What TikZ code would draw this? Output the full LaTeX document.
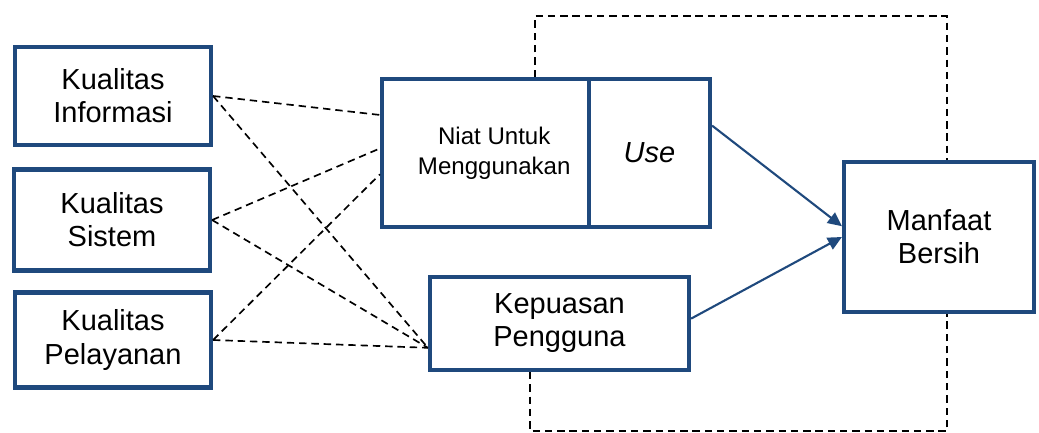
\documentclass[tikz,border=0pt]{standalone}
\usepackage{fontspec}
\setmainfont{Liberation Sans}
\usepackage{xcolor}
\usetikzlibrary{
    arrows.meta,
    shapes,
    positioning,
    calc
}
\definecolor{boxblue}{RGB}{31,73,125}
\tikzset{%
    >={Triangle[width=2.6mm,length=2.8mm]},
    % Specifications for style of nodes:
    base/.style = {
        rectangle, draw=boxblue, line width=2.4pt,
        text centered, align=center, fill=white,
        font=\fontsize{16.5}{18.8}\selectfont
    },
    factor/.style = {base, minimum width=3.92cm},
    small/.style = {font=\fontsize{13.7}{17}\selectfont},
    link/.style = {draw=black, line width=0.95pt, dash pattern=on 4.2pt off 2.8pt},
    effect/.style = {draw=boxblue, line width=1.2pt, ->}
}
\begin{document}
\begin{tikzpicture}[x=0.02cm, y=-0.02cm]
    \useasboundingbox (0,0) rectangle (1039,433);

    % feedback loops
    \coordinate (tl) at (535,16);
    \coordinate (tr) at (947,16);
    \coordinate (bl) at (530,431);
    \coordinate (br) at (947,431);

    \node[factor, minimum height=1.96cm] (info) at (113,96) {Kualitas\\Informasi};
    \node[factor, minimum height=2.02cm] (sys) at (112,220) {Kualitas\\Sistem};
    \node[factor, minimum height=1.9cm] (svc) at (113,340) {Kualitas\\Pelayanan};

    \node[base, small, minimum width=4.14cm, minimum height=2.96cm] (niat) at (485.5,153) {\hspace*{0.35cm}Niat Untuk\\\hspace*{0.35cm}Menggunakan};
    \node[base, minimum width=2.42cm, minimum height=2.96cm] (use) at (649.5,153) {\itshape Use};
    \node[base, minimum width=5.18cm, minimum height=1.86cm] (kep) at (559.5,323.5) {Kepuasan\\Pengguna};
    \node[base, minimum width=3.8cm, minimum height=3cm] (net) at (939,237) {Manfaat\\Bersih};

    \draw[link] (info.east) -- ($(niat.north west)!0.25!(niat.south west)$);
    \draw[link] (info.east) -- ($(kep.north west)!0.75!(kep.south west)$);
    \draw[link] (sys.east) -- ($(niat.north west)!0.47!(niat.south west)$);
    \draw[link] (sys.east) -- ($(kep.north west)!0.75!(kep.south west)$);
    \draw[link] (svc.east) -- ($(niat.north west)!0.64!(niat.south west)$);
    \draw[link] (svc.east) -- ($(kep.north west)!0.75!(kep.south west)$);

    \draw[link] (niat.north -| tl) -- (tl) -- (tr) -- (net.north -| tr);
    \draw[link] (kep.south -| bl) -- (bl) -- (br) -- (net.south -| br);

    \draw[effect] ($(use.north east)!0.32!(use.south east)$) -- ($(net.north west)!0.43!(net.south west)$);
    \draw[effect] ($(kep.north east)!0.45!(kep.south east)$) -- (net.west);
\end{tikzpicture}
\end{document}
